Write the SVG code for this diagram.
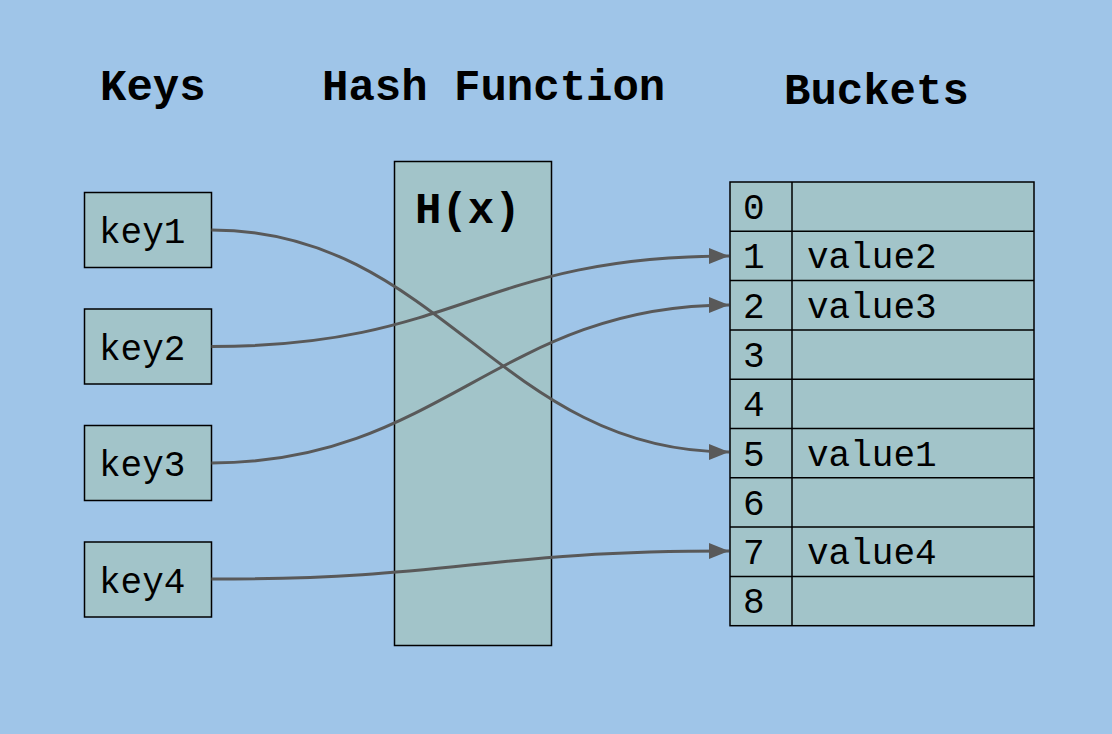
<svg xmlns="http://www.w3.org/2000/svg" width="1112" height="734" viewBox="0 0 1112 734">
<style>
.title{font-family:"Liberation Mono","Courier New",monospace;font-weight:bold;font-size:44px;fill:#000}
.lbl{font-family:"Liberation Mono","Courier New",monospace;font-size:36px;fill:#000}
.box{fill:#a2c4c9;stroke:#000;stroke-width:1.5}
.cell{fill:none;stroke:#000;stroke-width:1.5}
.conn{fill:none;stroke:#595959;stroke-width:3;marker-end:url(#arr)}
</style>
<defs>
<marker id="arr" viewBox="0 0 20 16" refX="20" refY="8" markerWidth="20" markerHeight="16" markerUnits="userSpaceOnUse" orient="auto">
<path d="M0,0 L20,8 L0,16 Z" fill="#595959"/>
</marker>
</defs>
<rect width="1112" height="734" fill="#9fc5e8"/>
<g id="titles">
<text class="title" x="100" y="100">Keys</text>
<text class="title" x="322" y="100">Hash Function</text>
<text class="title" x="784" y="104">Buckets</text>
</g>
<g id="key1"><rect class="box" x="84.5" y="192.5" width="127" height="75"/><text class="lbl" x="99" y="243">key1</text></g>
<g id="key2"><rect class="box" x="84.5" y="309" width="127" height="75"/><text class="lbl" x="99" y="359.5">key2</text></g>
<g id="key3"><rect class="box" x="84.5" y="425.5" width="127" height="75"/><text class="lbl" x="99" y="476">key3</text></g>
<g id="key4"><rect class="box" x="84.5" y="542" width="127" height="75"/><text class="lbl" x="99" y="592.5">key4</text></g>
<g id="hash"><rect class="box" x="394.5" y="161.5" width="157" height="484"/><text class="title" x="415" y="223">H(x)</text></g>
<g id="buckets">
<rect class="box" x="730" y="182" width="304" height="443.7"/>
<path class="cell" d="M792,182 V625.7 M730,231.3 H1034 M730,280.6 H1034 M730,329.9 H1034 M730,379.2 H1034 M730,428.5 H1034 M730,477.8 H1034 M730,527.1 H1034 M730,576.4 H1034"/>
<text class="lbl" x="743" y="219">0</text>
<text class="lbl" x="743" y="268.3">1</text>
<text class="lbl" x="743" y="317.6">2</text>
<text class="lbl" x="743" y="366.9">3</text>
<text class="lbl" x="743" y="416.2">4</text>
<text class="lbl" x="743" y="465.5">5</text>
<text class="lbl" x="743" y="514.8">6</text>
<text class="lbl" x="743" y="564.1">7</text>
<text class="lbl" x="743" y="613.4">8</text>
<text class="lbl" x="807" y="268.3">value2</text>
<text class="lbl" x="807" y="317.6">value3</text>
<text class="lbl" x="807" y="465.5">value1</text>
<text class="lbl" x="807" y="564.1">value4</text>
</g>
<g id="connectors">
<path class="conn" d="M211.5,230 C440,230 500,452 729,452"/>
<path class="conn" d="M211.5,346.5 C460,346.5 480,256 729,256"/>
<path class="conn" d="M211.5,463 C440,463 500,305 729,305"/>
<path class="conn" d="M211.5,579 C460,579 480,551 729,551"/>
</g>
</svg>
